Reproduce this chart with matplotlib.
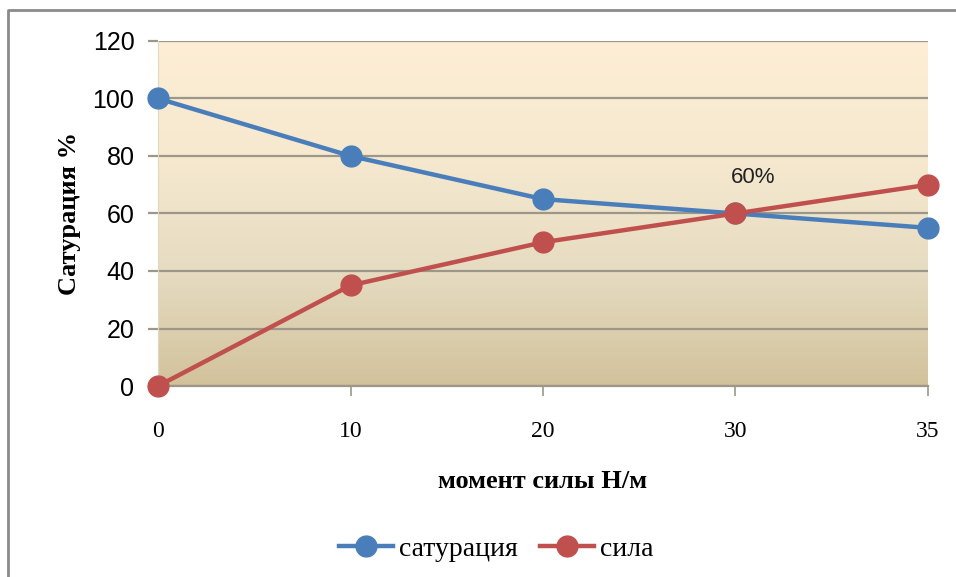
import numpy as np
import matplotlib.pyplot as plt
from matplotlib.colors import LinearSegmentedColormap
from matplotlib.lines import Line2D

# data
moment = ['0', '10', '20', '30', '35']
saturation = [100, 80, 65, 60, 55]
force = [0, 35, 50, 60, 70]
yticks = [0, 20, 40, 60, 80, 100, 120]

blue = '#4a7ebb'
red = '#c0504d'

fig = plt.figure(figsize=(9.56, 5.77), dpi=100)
ax = fig.add_axes([0.1653, 0.331, 0.8054, 0.598])

x = np.arange(len(moment))

# gradient background
cmap = LinearSegmentedColormap.from_list('bg', ['#d2c29b', '#e6dcc2', '#f6e9cf', '#fdeed5'])
grad = np.linspace(0, 1, 256).reshape(-1, 1)
ax.imshow(grad, cmap=cmap, origin='lower', aspect='auto',
          extent=[x[0], x[-1], 0, 120], zorder=0)

ax.plot(x, saturation, color=blue, lw=3.2, marker='o', ms=15, label='сатурация',
        zorder=3, clip_on=False)
ax.plot(x, force, color=red, lw=3.2, marker='o', ms=15, label='сила',
        zorder=4, clip_on=False)

ax.text(3.09, 72.5, '60%', ha='center', va='center', fontsize=16,
        family='Liberation Sans', color='#222222')

ax.set_xlim(x[0], x[-1])
ax.set_ylim(0, 120)
ax.set_xticks(x)
ax.set_xticklabels(moment, family='Liberation Serif', fontsize=17)
ax.set_yticks(yticks)
ax.set_yticklabels([str(v) for v in yticks], family='Liberation Sans', fontsize=18)
ax.yaxis.grid(True, color='#9d978a', lw=1.6)
for t in ax.get_ygridlines():
    t.set_zorder(1)
ax.tick_params(axis='y', length=7, width=1.6, color='#9d978a', pad=10)
ax.tick_params(axis='x', length=7, width=1.2, color='#9d978a', pad=18)
for s in ['top', 'right']:
    ax.spines[s].set_visible(False)
ax.spines['left'].set_color('#e0d8c4')
ax.spines['bottom'].set_color('#9d978a')
ax.spines['bottom'].set_linewidth(1.6)

ax.set_ylabel('Сатурация %', family='Liberation Serif', fontweight='bold',
              fontsize=19, labelpad=8)
ax.set_xlabel('момент силы Н/м', family='Liberation Serif', fontweight='bold',
              fontsize=19, labelpad=20)

leg = ax.legend(loc='center', bbox_to_anchor=(0.439, -0.472), ncol=2, frameon=False,
                fontsize=20, handlelength=1.95, handletextpad=0.2,
                columnspacing=0.8)
for t in leg.get_texts():
    t.set_fontfamily('Liberation Serif')

# outer frame (top and left only visible)
fig.add_artist(Line2D([8/956, 8/956, 1], [0, 1 - 10/577, 1 - 10/577],
                      transform=fig.transFigure, color='#8a8a8a', lw=2))

fig.savefig('out.png', dpi=100)
